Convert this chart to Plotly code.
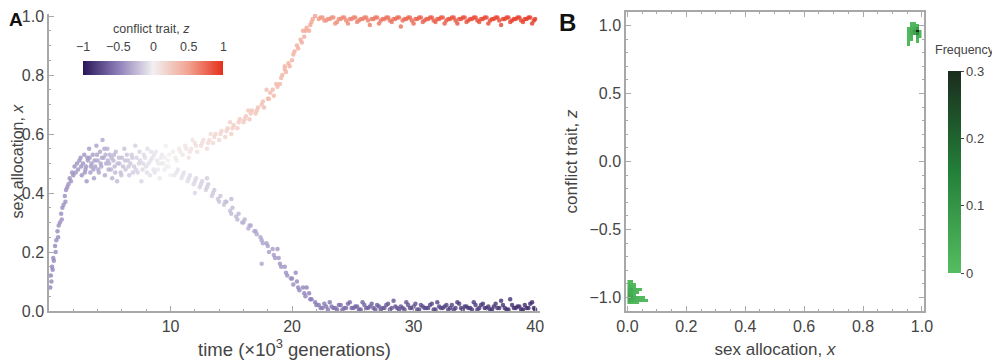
import plotly.graph_objects as go

# ---------------- Panel A data: (time ×10^3, sex allocation x, conflict trait z) ----------------
# initial rise
rise_t = [0.1, 0.15, 0.2, 0.25, 0.3, 0.35, 0.4, 0.5, 0.55, 0.6, 0.7, 0.75, 0.8, 0.9, 1.0, 1.05,
          1.1, 1.2, 1.3, 1.35, 1.4, 1.5, 1.6, 1.7, 1.8, 1.9, 2.0, 2.1, 2.2, 2.3, 2.4, 2.5]
rise_x = [0.08, 0.12, 0.10, 0.15, 0.14, 0.18, 0.17, 0.22, 0.20, 0.24, 0.27, 0.25, 0.29, 0.30, 0.33, 0.31,
          0.35, 0.36, 0.39, 0.37, 0.41, 0.42, 0.43, 0.45, 0.44, 0.47, 0.46, 0.49, 0.47, 0.50, 0.48, 0.51]
rise_z = [-0.48, -0.48, -0.47, -0.47, -0.47, -0.46, -0.46, -0.46, -0.45, -0.45, -0.45, -0.45, -0.44, -0.44, -0.44, -0.44,
          -0.44, -0.43, -0.43, -0.43, -0.43, -0.43, -0.42, -0.42, -0.42, -0.42, -0.42, -0.42, -0.41, -0.41, -0.41, -0.41]

# mixed plateau around x = 0.5
mid_t = [2.6, 2.65, 2.7, 2.8, 2.9, 2.95, 3.0, 3.1, 3.15, 3.2, 3.3, 3.4, 3.45, 3.5, 3.6, 3.7, 3.75, 3.8,
         3.9, 4.0, 4.05, 4.1, 4.2, 4.3, 4.35, 4.4, 4.5, 4.6, 4.65, 4.7, 4.8, 4.9, 4.95, 5.0, 5.15, 5.2,
         5.3, 5.4, 5.45, 5.5, 5.6, 5.75, 5.8, 5.9, 6.0, 6.1, 6.2, 6.3, 6.4, 6.5, 6.6, 6.7, 6.8, 6.9,
         7.0, 7.1, 7.2, 7.3, 7.4, 7.5, 7.6, 7.7, 7.8, 7.9, 8.0, 8.1, 8.2, 8.3, 8.4, 8.5, 8.6, 8.7,
         8.8, 8.9, 9.0, 9.1, 9.2, 9.3, 9.4, 9.5, 9.6, 9.7, 9.8, 9.9, 10.0,
         3.05, 3.35, 3.65, 3.95, 4.25, 4.55, 4.85, 5.1, 5.35, 5.65, 5.95, 6.25, 6.55, 6.85, 7.15, 7.45,
         7.75, 8.05, 8.35, 8.65, 8.95, 9.25, 9.55, 9.85]
mid_x = [0.52, 0.49, 0.46, 0.50, 0.53, 0.47, 0.48, 0.44, 0.52, 0.51, 0.55, 0.47, 0.49, 0.50, 0.53, 0.45, 0.51, 0.49,
         0.56, 0.51, 0.48, 0.47, 0.54, 0.49, 0.52, 0.58, 0.52, 0.46, 0.53, 0.50, 0.55, 0.48, 0.50, 0.53, 0.52, 0.45,
         0.51, 0.49, 0.47, 0.54, 0.44, 0.52, 0.50, 0.47, 0.52, 0.49, 0.55, 0.48, 0.53, 0.51, 0.46, 0.50, 0.53, 0.47,
         0.49, 0.56, 0.52, 0.47, 0.50, 0.51, 0.44, 0.48, 0.53, 0.52, 0.49, 0.55, 0.50, 0.46, 0.54, 0.52, 0.48, 0.47,
         0.54, 0.51, 0.50, 0.45, 0.52, 0.53, 0.50, 0.48, 0.56, 0.49, 0.51, 0.53, 0.46,
         0.49, 0.52, 0.48, 0.53, 0.50, 0.55, 0.51, 0.48, 0.53, 0.50, 0.46, 0.51, 0.49, 0.52, 0.48, 0.54,
         0.50, 0.47, 0.51, 0.53, 0.48, 0.50, 0.52, 0.49]
mid_z = [-0.41, -0.41, -0.41, -0.40, -0.40, -0.40, -0.39, -0.39, -0.39, -0.38, -0.38, -0.37, -0.37, -0.37, -0.36, -0.36, -0.36, -0.35,
         -0.35, -0.34, -0.34, -0.34, -0.33, -0.33, -0.32, -0.32, -0.31, -0.31, -0.30, -0.30, -0.29, -0.29, -0.28, -0.28, -0.27, -0.27,
         -0.26, -0.26, -0.25, -0.25, -0.24, -0.24, -0.23, -0.23, -0.22, -0.22, -0.21, -0.20, -0.20, -0.19, -0.18, -0.18, -0.17, -0.16,
         -0.16, -0.15, -0.14, -0.14, -0.13, -0.12, -0.12, -0.11, -0.10, -0.10, -0.09, -0.09, -0.08, -0.08, -0.07, -0.07, -0.06, -0.06,
         -0.05, -0.05, -0.04, -0.04, -0.03, -0.03, -0.02, -0.02, -0.01, -0.01, 0.00, 0.00, 0.00,
         -0.39, -0.37, -0.36, -0.35, -0.33, -0.31, -0.29, -0.28, -0.26, -0.24, -0.22, -0.20, -0.18, -0.17, -0.15, -0.13,
         -0.11, -0.09, -0.08, -0.06, -0.04, -0.03, -0.01, 0.00]

# upper (high z) branch
up_t = [10.2, 10.5, 10.7, 11.0, 11.2, 11.5, 11.7, 12.0, 12.2, 12.5, 12.7, 13.0, 13.2, 13.5, 13.7, 14.0,
        14.2, 14.5, 14.7, 15.0, 15.2, 15.5, 15.7, 16.0, 16.2, 16.5, 16.7, 17.0, 17.2, 17.5, 17.7, 18.0,
        18.2, 18.5, 18.7, 19.0, 19.2, 19.5, 19.7, 20.0, 20.2, 20.5, 20.7, 21.0, 21.2, 21.5, 21.7, 21.9,
        11.8, 13.3, 14.9, 16.4, 17.9, 19.4, 20.9,
        10.4, 10.8, 11.3, 11.6, 12.1, 12.6, 13.1, 13.6, 14.1, 14.6, 15.1, 15.6, 16.1, 16.6, 17.1, 17.6,
        18.1, 18.4, 18.8, 19.1, 19.4, 19.8, 20.1, 20.4, 20.8, 21.1, 21.4, 21.6]
up_x = [0.54, 0.51, 0.55, 0.53, 0.56, 0.52, 0.55, 0.57, 0.54, 0.56, 0.58, 0.55, 0.58, 0.57, 0.60, 0.58,
        0.61, 0.59, 0.62, 0.60, 0.63, 0.62, 0.65, 0.64, 0.66, 0.65, 0.68, 0.67, 0.69, 0.70, 0.69, 0.72,
        0.74, 0.73, 0.77, 0.77, 0.80, 0.81, 0.84, 0.85, 0.88, 0.89, 0.92, 0.93, 0.96, 0.97, 0.99, 1.00,
        0.58, 0.60, 0.64, 0.68, 0.75, 0.83, 0.95,
        0.52, 0.54, 0.55, 0.54, 0.56, 0.57, 0.57, 0.59, 0.60, 0.61, 0.62, 0.64, 0.65, 0.67, 0.68, 0.71,
        0.72, 0.75, 0.76, 0.79, 0.82, 0.83, 0.87, 0.90, 0.91, 0.95, 0.95, 0.98]
up_z = [0.04, 0.05, 0.06, 0.07, 0.08, 0.09, 0.10, 0.11, 0.12, 0.13, 0.14, 0.15, 0.16, 0.17, 0.18, 0.19,
        0.20, 0.21, 0.22, 0.23, 0.24, 0.25, 0.26, 0.27, 0.28, 0.29, 0.30, 0.31, 0.32, 0.33, 0.34, 0.35,
        0.36, 0.37, 0.38, 0.39, 0.40, 0.41, 0.42, 0.43, 0.44, 0.45, 0.46, 0.47, 0.48, 0.50, 0.51, 0.52,
        0.10, 0.16, 0.22, 0.29, 0.35, 0.41, 0.47,
        0.05, 0.06, 0.08, 0.09, 0.11, 0.13, 0.15, 0.17, 0.19, 0.21, 0.23, 0.25, 0.27, 0.29, 0.31, 0.33,
        0.35, 0.37, 0.38, 0.39, 0.41, 0.42, 0.43, 0.44, 0.46, 0.48, 0.49, 0.51]

# lower (low z) branch
lo_t = [10.3, 10.6, 10.9, 11.1, 11.4, 11.6, 11.9, 12.1, 12.4, 12.6, 12.9, 13.1, 13.4, 13.6, 13.9, 14.1,
        14.4, 14.6, 14.9, 15.1, 15.4, 15.6, 15.9, 16.1, 16.4, 16.6, 16.9, 17.1, 17.4, 17.6, 17.9, 18.1,
        18.4, 18.6, 18.9, 19.1, 19.4, 19.6, 19.9, 20.1, 20.4, 20.6, 20.9, 21.1, 21.4, 21.6, 21.9,
        12.0, 13.0, 15.0, 17.5, 18.8, 20.3, 21.2,
        10.5, 11.0, 11.5, 12.0, 12.5, 13.0, 13.5, 14.0, 14.5, 15.0, 15.5, 16.0, 16.5, 17.0, 17.5, 18.0,
        18.5, 19.0, 19.5, 20.0, 20.5, 21.0, 21.5, 22.0]
lo_x = [0.46, 0.48, 0.45, 0.47, 0.44, 0.46, 0.43, 0.45, 0.42, 0.44, 0.41, 0.43, 0.39, 0.41, 0.38, 0.39,
        0.36, 0.37, 0.34, 0.35, 0.32, 0.33, 0.30, 0.31, 0.28, 0.29, 0.27, 0.26, 0.25, 0.23, 0.23, 0.20,
        0.21, 0.18, 0.18, 0.15, 0.15, 0.12, 0.11, 0.09, 0.10, 0.07, 0.08, 0.05, 0.06, 0.04, 0.03,
        0.40, 0.45, 0.38, 0.16, 0.21, 0.13, 0.08,
        0.47, 0.46, 0.45, 0.44, 0.43, 0.42, 0.40, 0.37, 0.37, 0.33, 0.31, 0.30, 0.29, 0.27, 0.24, 0.22,
        0.19, 0.16, 0.13, 0.11, 0.08, 0.06, 0.04, 0.02]
lo_z = [-0.05, -0.06, -0.07, -0.08, -0.09, -0.10, -0.11, -0.12, -0.13, -0.14, -0.15, -0.16, -0.17, -0.18, -0.19, -0.20,
        -0.21, -0.22, -0.23, -0.24, -0.25, -0.26, -0.27, -0.28, -0.29, -0.30, -0.31, -0.32, -0.33, -0.34, -0.35, -0.36,
        -0.37, -0.38, -0.39, -0.40, -0.41, -0.42, -0.43, -0.44, -0.45, -0.46, -0.47, -0.48, -0.49, -0.50, -0.51,
        -0.12, -0.16, -0.24, -0.33, -0.39, -0.45, -0.48,
        -0.06, -0.08, -0.10, -0.12, -0.14, -0.16, -0.18, -0.20, -0.22, -0.24, -0.26, -0.28, -0.30, -0.32, -0.34, -0.36,
        -0.38, -0.40, -0.42, -0.44, -0.46, -0.48, -0.50, -0.52]

# fixed states after ~22 ×10^3 generations
pl_t = [22.2, 22.5, 22.8, 23.1, 23.4, 23.7, 24.0, 24.3, 24.6, 24.9, 25.2, 25.5, 25.8, 26.1, 26.4,
        26.7, 27.0, 27.3, 27.6, 27.9, 28.2, 28.5, 28.8, 29.1, 29.4, 29.7, 30.0, 30.3, 30.6, 30.9,
        31.2, 31.5, 31.8, 32.1, 32.4, 32.7, 33.0, 33.3, 33.6, 33.9, 34.2, 34.5, 34.8, 35.1, 35.4,
        35.7, 36.0, 36.3, 36.6, 36.9, 37.2, 37.5, 37.8, 38.1, 38.4, 38.7, 39.0, 39.3, 39.6, 39.9,
        22.35, 22.65, 22.95, 23.25, 23.55, 23.85, 24.15, 24.45, 24.75, 25.05, 25.35, 25.65, 25.95, 26.25, 26.55,
        26.85, 27.15, 27.45, 27.75, 28.05, 28.35, 28.65, 28.95, 29.25, 29.55, 29.85, 30.15, 30.45, 30.75, 31.05,
        31.35, 31.65, 31.95, 32.25, 32.55, 32.85, 33.15, 33.45, 33.75, 34.05, 34.35, 34.65, 34.95, 35.25, 35.55,
        35.85, 36.15, 36.45, 36.75, 37.05, 37.35, 37.65, 37.95, 38.25, 38.55, 38.85, 39.15, 39.45, 39.75, 40.0]
plhi_x = [0.990, 0.995, 0.985, 0.990, 0.995, 0.980, 0.990, 0.995, 0.975, 0.990, 0.995, 0.985, 0.990, 0.995, 0.970,
          0.990, 0.995, 0.985, 0.990, 0.995, 0.980, 0.990, 0.995, 0.985, 0.990, 0.995, 0.975, 0.990, 0.995, 0.985,
          0.990, 0.995, 0.980, 0.990, 0.995, 0.985, 0.990, 0.995, 0.975, 0.990, 0.995, 0.985, 0.990, 0.995, 0.980,
          0.990, 0.995, 0.985, 0.990, 0.995, 0.970, 0.990, 0.995, 0.985, 0.990, 0.995, 0.980, 0.990, 0.995, 0.985,
          0.995, 0.985, 0.990, 0.995, 0.975, 0.990, 0.995, 0.985, 0.990, 0.995, 0.980, 0.990, 0.995, 0.985, 0.990,
          0.995, 0.975, 0.990, 0.995, 0.985, 0.990, 0.995, 0.965, 0.990, 0.995, 0.985, 0.990, 0.995, 0.980, 0.990,
          0.995, 0.985, 0.990, 0.995, 0.975, 0.990, 0.995, 0.985, 0.990, 0.995, 0.980, 0.990, 0.995, 0.985, 0.990,
          0.995, 0.975, 0.990, 0.995, 0.985, 0.990, 0.995, 0.980, 0.990, 0.995, 0.985, 0.990, 0.995, 0.975, 0.990]
plhi_z = [0.55, 0.56, 0.57, 0.58, 0.59, 0.60, 0.61, 0.62, 0.63, 0.64, 0.65, 0.66, 0.66, 0.67, 0.68,
          0.69, 0.70, 0.70, 0.71, 0.72, 0.73, 0.73, 0.74, 0.75, 0.76, 0.76, 0.77, 0.78, 0.78, 0.79,
          0.80, 0.80, 0.81, 0.82, 0.82, 0.83, 0.84, 0.84, 0.85, 0.86, 0.86, 0.87, 0.87, 0.88, 0.88,
          0.89, 0.89, 0.90, 0.90, 0.91, 0.91, 0.92, 0.92, 0.93, 0.93, 0.94, 0.94, 0.95, 0.95, 0.96,
          0.55, 0.56, 0.57, 0.58, 0.59, 0.60, 0.61, 0.62, 0.63, 0.64, 0.65, 0.66, 0.67, 0.67, 0.68,
          0.69, 0.70, 0.71, 0.71, 0.72, 0.73, 0.74, 0.74, 0.75, 0.76, 0.77, 0.77, 0.78, 0.79, 0.79,
          0.80, 0.81, 0.81, 0.82, 0.83, 0.83, 0.84, 0.85, 0.85, 0.86, 0.86, 0.87, 0.88, 0.88, 0.89,
          0.89, 0.90, 0.90, 0.91, 0.91, 0.92, 0.92, 0.93, 0.93, 0.94, 0.94, 0.95, 0.95, 0.96, 0.96]
pllo_x = [0.020, 0.010, 0.015, 0.030, 0.010, 0.005, 0.020, 0.010, 0.025, 0.010, 0.015, 0.005, 0.030, 0.010, 0.015,
          0.010, 0.020, 0.005, 0.010, 0.025, 0.010, 0.015, 0.005, 0.010, 0.030, 0.010, 0.015, 0.005, 0.020, 0.010,
          0.010, 0.025, 0.005, 0.015, 0.010, 0.020, 0.010, 0.005, 0.030, 0.010, 0.015, 0.010, 0.005, 0.020, 0.010,
          0.025, 0.010, 0.005, 0.015, 0.010, 0.035, 0.010, 0.005, 0.020, 0.010, 0.015, 0.005, 0.010, 0.025, 0.010,
          0.010, 0.025, 0.005, 0.015, 0.010, 0.020, 0.005, 0.010, 0.030, 0.010, 0.015, 0.005, 0.020, 0.010, 0.025,
          0.005, 0.015, 0.010, 0.020, 0.005, 0.035, 0.010, 0.015, 0.005, 0.020, 0.010, 0.025, 0.005, 0.015, 0.010,
          0.020, 0.005, 0.030, 0.010, 0.015, 0.005, 0.020, 0.010, 0.025, 0.005, 0.015, 0.010, 0.030, 0.005, 0.020,
          0.010, 0.015, 0.005, 0.025, 0.010, 0.020, 0.005, 0.040, 0.010, 0.015, 0.005, 0.020, 0.010, 0.030, 0.005]
pllo_z = [-0.52, -0.53, -0.54, -0.55, -0.56, -0.57, -0.58, -0.59, -0.60, -0.61, -0.62, -0.62, -0.63, -0.64, -0.65,
          -0.66, -0.66, -0.67, -0.68, -0.69, -0.69, -0.70, -0.71, -0.71, -0.72, -0.73, -0.73, -0.74, -0.75, -0.75,
          -0.76, -0.77, -0.77, -0.78, -0.78, -0.79, -0.80, -0.80, -0.81, -0.81, -0.82, -0.82, -0.83, -0.83, -0.84,
          -0.84, -0.85, -0.85, -0.86, -0.86, -0.87, -0.87, -0.88, -0.88, -0.89, -0.89, -0.90, -0.90, -0.91, -0.91,
          -0.52, -0.53, -0.54, -0.55, -0.56, -0.57, -0.58, -0.59, -0.60, -0.61, -0.62, -0.63, -0.63, -0.64, -0.65,
          -0.66, -0.67, -0.67, -0.68, -0.69, -0.70, -0.70, -0.71, -0.72, -0.72, -0.73, -0.74, -0.74, -0.75, -0.76,
          -0.76, -0.77, -0.78, -0.78, -0.79, -0.79, -0.80, -0.81, -0.81, -0.82, -0.82, -0.83, -0.83, -0.84, -0.84,
          -0.85, -0.85, -0.86, -0.86, -0.87, -0.87, -0.88, -0.88, -0.89, -0.89, -0.90, -0.90, -0.91, -0.91, -0.92]

time_all = rise_t + mid_t + up_t + lo_t + pl_t + pl_t
sexalloc_all = rise_x + mid_x + up_x + lo_x + plhi_x + pllo_x
conflict_all = rise_z + mid_z + up_z + lo_z + plhi_z + pllo_z

# ---------------- Panel B data: joint frequency histogram of (x, z) ----------------
cell_x = ([0.005] * 9 + [0.015] * 9 + [0.025] * 8 + [0.035] * 5 + [0.045] * 3 + [0.055] * 2 + [0.065]
          + [0.965, 0.975] + [0.965, 0.975, 0.985] + [0.955, 0.965, 0.975, 0.985]
          + [0.955, 0.965, 0.975, 0.985, 0.995] + [0.955, 0.965, 0.975, 0.985, 0.995]
          + [0.955, 0.965, 0.985, 0.995] + [0.955, 0.965, 0.985] + [0.955, 0.985] + [0.955])
cell_z = ([-0.88, -0.90, -0.92, -0.94, -0.96, -0.98, -1.00, -1.02, -1.04]
          + [-0.88, -0.90, -0.92, -0.94, -0.96, -0.98, -1.00, -1.02, -1.04]
          + [-0.90, -0.92, -0.94, -0.96, -0.98, -1.00, -1.02, -1.04]
          + [-0.94, -0.96, -1.00, -1.02, -1.04]
          + [-0.94, -1.00, -1.02] + [-1.00, -1.02] + [-1.02]
          + [1.02] * 2 + [1.00] * 3 + [0.98] * 4 + [0.96] * 5 + [0.94] * 5
          + [0.92] * 4 + [0.90] * 3 + [0.88] * 2 + [0.86])
cell_freq = ([0.010, 0.020, 0.030, 0.040, 0.050, 0.060, 0.070, 0.050, 0.020]
             + [0.010, 0.015, 0.030, 0.050, 0.040, 0.050, 0.060, 0.040, 0.015]
             + [0.010, 0.015, 0.020, 0.020, 0.015, 0.030, 0.030, 0.010]
             + [0.015, 0.010, 0.020, 0.020, 0.010]
             + [0.010, 0.010, 0.015] + [0.010, 0.010] + [0.008]
             + [0.010, 0.010] + [0.015, 0.020, 0.020] + [0.010, 0.030, 0.040, 0.080]
             + [0.015, 0.040, 0.080, 0.300, 0.020] + [0.010, 0.040, 0.060, 0.120, 0.020]
             + [0.010, 0.020, 0.040, 0.015] + [0.010, 0.015, 0.020] + [0.010, 0.010] + [0.008])

freq_ticks = [0, 0.1, 0.2, 0.3]
z_ticks = [-1, -0.5, 0, 0.5, 1]
z_ticktext = ["\u22121", "\u22120.5", "0", "0.5", "1"]

# build the heatmap grid from the cell lists
X0, DX, NX = 0.005, 0.01, 100
Y0, DY, NY = -1.10, 0.02, 111
grid = [[None] * NX for _ in range(NY)]
for cx, cz, f in zip(cell_x, cell_z, cell_freq):
    i = int(round((cz - Y0) / DY))
    j = int(round((cx - X0) / DX))
    grid[i][j] = f

# page offset (browser body margin) compensation: positions given in target-image pixels
W, H, OFF = 1000, 363, 8
def fx(px):
    return (px - OFF) / W
def fy(py):
    return 1 - (py - OFF) / H

FONT = "Liberation Sans, Arial, sans-serif"
TXT = "#444444"
AX = "#a8a8a8"

conflict_scale = [[0.0, "#2a1659"], [0.25, "#8c7db8"], [0.5, "#f1f0f1"], [0.75, "#f2a492"], [1.0, "#e5301b"]]
freq_scale = [[0.0, "#55bd60"], [0.5, "#238039"], [1.0, "#1a2c1d"]]

fig = go.Figure()
fig.add_trace(go.Scatter(
    x=time_all, y=sexalloc_all, mode="markers", xaxis="x", yaxis="y", showlegend=False,
    marker=dict(size=4.5, color=conflict_all, cmin=-1, cmax=1, colorscale=conflict_scale, opacity=0.8,
                line=dict(width=0),
                colorbar=dict(orientation="h", x=fx(153), xanchor="center", y=fy(68), yanchor="middle",
                              len=140 / W, lenmode="fraction", thickness=14, xpad=0, ypad=0,
                              outlinewidth=0, showticklabels=False, ticks=""))))

fig.add_trace(go.Heatmap(
    z=grid, x0=X0, dx=DX, y0=Y0, dy=DY, xaxis="x2", yaxis="y2",
    zmin=0, zmax=0.3, colorscale=freq_scale, hoverongaps=False,
    colorbar=dict(x=fx(948), xanchor="left", y=fy(172), yanchor="middle", len=202 / H, lenmode="fraction",
                  thickness=13, xpad=0, ypad=0, outlinewidth=0,
                  tickvals=freq_ticks, ticktext=["0", "0.1", "0.2", "0.3"], ticks="outside", ticklen=3,
                  tickcolor=TXT, tickfont=dict(size=13, color=TXT, family=FONT))))

annotations = [
    dict(text="<b>A</b>", x=fx(8), y=fy(8), xref="paper", yref="paper", xanchor="left", yanchor="top",
         showarrow=False, borderpad=0, font=dict(size=19, color="#111", family=FONT)),
    dict(text="<b>B</b>", x=fx(558), y=fy(8), xref="paper", yref="paper", xanchor="left", yanchor="top",
         showarrow=False, borderpad=0, font=dict(size=24, color="#111", family=FONT)),
    dict(text="conflict trait, <i>z</i>", x=fx(151), y=fy(29), xref="paper", yref="paper",
         xanchor="center", yanchor="middle", showarrow=False, font=dict(size=12.5, color=TXT, family=FONT)),
    dict(text="Frequency", x=fx(965), y=fy(50), xref="paper", yref="paper",
         xanchor="center", yanchor="middle", showarrow=False, font=dict(size=12.5, color=TXT, family=FONT)),
    # y-axis title of panel A (placed by hand so it does not collide with the tick labels)
    dict(text="sex allocation, <i>x</i>", x=fx(8), y=fy(161), xref="paper", yref="paper", textangle=-90,
         xanchor="left", yanchor="middle", showarrow=False, borderpad=0,
         font=dict(size=16, color=TXT, family=FONT)),
]
# tick labels of the conflict-trait colour bar (placed above the bar)
for v, t in zip(z_ticks, z_ticktext):
    annotations.append(dict(text=t, x=fx(83 + (v + 1) / 2 * 140), y=fy(47), xref="paper", yref="paper",
                            xanchor="center", yanchor="middle", showarrow=False,
                            font=dict(size=12.5, color=TXT, family=FONT)))

common = dict(showgrid=False, zeroline=False, showline=True, linecolor=AX, linewidth=1.5,
              ticks="inside", ticklen=5, tickcolor=AX, tickwidth=1, automargin=False,
              ticklabeloverflow="allow", tickfont=dict(size=16, color=TXT, family=FONT))

fig.update_layout(
    width=W, height=H, margin=dict(l=0, r=0, t=0, b=0, autoexpand=False),
    paper_bgcolor="white", plot_bgcolor="white",
    font=dict(family=FONT, color=TXT),
    annotations=annotations,
    xaxis=dict(domain=[fx(49), fx(540)], range=[0, 40.4], tickvals=[10, 20, 30, 40],
               minor=dict(dtick=2, ticks="inside", ticklen=2.5, tickcolor=AX),
               title=dict(text="time (\u00d710<sup>3</sup> generations)", standoff=9,
                          font=dict(size=18.5, color=TXT, family=FONT)),
               anchor="y", **common),
    yaxis=dict(domain=[fy(311), fy(14)], range=[0, 1.007], dtick=0.2, tickformat=".1f",
               minor=dict(dtick=0.05, ticks="inside", ticklen=2.5, tickcolor=AX),
               anchor="x", **common),
    xaxis2=dict(domain=[fx(626), fx(924)], range=[-0.005, 1.007], dtick=0.2, tickformat=".1f", mirror="ticks",
                minor=dict(dtick=0.05, ticks="inside", ticklen=2.5, tickcolor=AX),
                title=dict(text="sex allocation, <i>x</i>", standoff=9,
                           font=dict(size=17, color=TXT, family=FONT)),
                anchor="y2", **common),
    yaxis2=dict(domain=[fy(311), fy(12)], range=[-1.1, 1.1], dtick=0.5, tickformat=".1f", mirror="ticks",
                minor=dict(dtick=0.1, ticks="inside", ticklen=2.5, tickcolor=AX),
                title=dict(text="conflict trait, <i>z</i>", standoff=8,
                           font=dict(size=17, color=TXT, family=FONT)),
                anchor="x2", **common),
)

fig.write_html("out.html")
